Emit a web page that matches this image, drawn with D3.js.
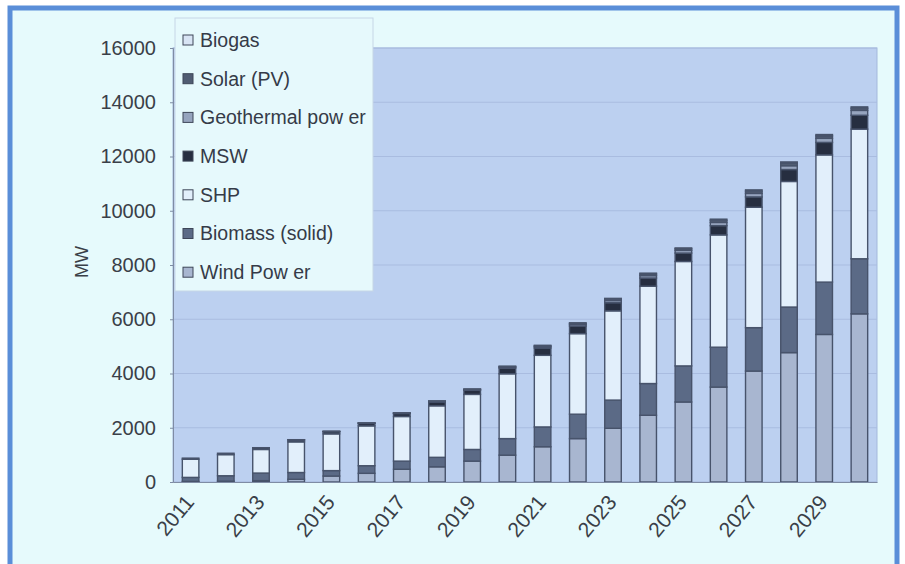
<!DOCTYPE html>
<html>
<head>
<meta charset="utf-8">
<script src="https://cdn.jsdelivr.net/npm/d3@7"></script>
<style>
  html, body { margin: 0; padding: 0; background: #ffffff; }
  svg { display: block; font-family: "Liberation Sans", Arial, sans-serif; }
</style>
</head>
<body>
<svg id="chart" width="905" height="564"></svg>
<script>
// ---- data (MW) ----
const years = ["2011","2012","2013","2014","2015","2016","2017","2018","2019","2020",
               "2021","2022","2023","2024","2025","2026","2027","2028","2029","2030"];
const windPower   = [20, 30, 50, 100, 220, 320, 470, 560, 770, 990, 1300, 1600, 1980, 2460, 2950, 3500, 4090, 4770, 5440, 6200];
const biomass     = [150, 200, 280, 250, 200, 280, 300, 350, 430, 610, 730, 900, 1040, 1170, 1330, 1470, 1600, 1680, 1930, 2030];
const shp         = [670, 780, 870, 1130, 1355, 1470, 1645, 1900, 2030, 2390, 2640, 2970, 3290, 3590, 3850, 4140, 4440, 4630, 4690, 4780];
const msw         = [40, 50, 60, 70, 80, 90, 110, 140, 150, 210, 270, 280, 300, 300, 310, 340, 380, 440, 460, 510];
const geothermal  = [0, 0, 0, 5, 5, 10, 15, 20, 25, 35, 50, 60, 80, 90, 100, 120, 130, 140, 150, 180];
const solar       = [0, 0, 0, 0, 5, 5, 5, 10, 15, 20, 30, 35, 50, 60, 60, 80, 85, 90, 90, 80];
const biogas      = [0, 0, 5, 5, 5, 5, 5, 10, 10, 15, 20, 25, 30, 30, 30, 40, 45, 50, 50, 50];

const seriesNames = ["Wind Pow er", "Biomass (solid)", "SHP", "MSW", "Geothermal pow er", "Solar (PV)", "Biogas"];
const seriesValues = [windPower, biomass, shp, msw, geothermal, solar, biogas];
const seriesColors = ["#a8b6d0", "#5b6a86", "#e2effb", "#262e40", "#96a4be", "#505c72", "#d8e4f4"];
const yTicks = [0, 2000, 4000, 6000, 8000, 10000, 12000, 14000, 16000];
const xTickLabels = ["2011","2013","2015","2017","2019","2021","2023","2025","2027","2029"];
const yLabel = "MW";

// ---- build table ----
const keys = seriesNames;
const table = years.map((yr, i) => {
  const row = { year: yr };
  keys.forEach((k, j) => row[k] = seriesValues[j][i]);
  return row;
});

const svg = d3.select("#chart");

// frame
svg.append("rect").attr("x", 0).attr("y", 0).attr("width", 905).attr("height", 564).attr("fill", "#ffffff");
svg.append("rect").attr("x", 10).attr("y", 8).attr("width", 887).attr("height", 600)
  .attr("fill", "#e6fafc").attr("stroke", "#5a8ed8").attr("stroke-width", 5);

const plot = { left: 173, right: 877, top: 48, bottom: 482 };

const x = d3.scaleBand().domain(years).range([plot.left, plot.right])
  .paddingInner(0.53).paddingOuter(0.265);
const y = d3.scaleLinear().domain([0, 16000]).range([plot.bottom, plot.top]);

// plot background
svg.append("rect").attr("x", plot.left).attr("y", plot.top)
  .attr("width", plot.right - plot.left).attr("height", plot.bottom - plot.top)
  .attr("fill", "#bcd0f0").attr("stroke", "#a4b8dc").attr("stroke-width", 1);

// gridlines
svg.append("g").selectAll("line").data(yTicks.slice(1)).join("line")
  .attr("x1", plot.left).attr("x2", plot.right)
  .attr("y1", d => y(d)).attr("y2", d => y(d))
  .attr("stroke", "#a9bce0").attr("stroke-width", 1);

// stacked bars
const stack = d3.stack().keys(keys)(table);
const layers = svg.append("g").selectAll("g").data(stack).join("g")
  .attr("fill", (d, i) => seriesColors[i]);
layers.selectAll("rect").data(d => d.filter(p => p[1] - p[0] > 0)).join("rect")
  .attr("x", d => x(d.data.year))
  .attr("width", x.bandwidth())
  .attr("y", d => y(d[1]))
  .attr("height", d => y(d[0]) - y(d[1]))
  .attr("stroke", "#47536b").attr("stroke-width", 1.4);

// y axis
const yAxis = d3.axisLeft(y).tickValues(yTicks).tickSize(3).tickPadding(14).tickFormat(d3.format("d"));
const yg = svg.append("g").attr("transform", `translate(${plot.left},0)`).call(yAxis);
yg.select(".domain").attr("stroke", "#7f8ca4");
yg.selectAll(".tick line").attr("stroke", "#7f8ca4");
yg.selectAll(".tick text").attr("fill", "#3a3f48").attr("font-size", 20)
  .attr("font-family", "'Liberation Sans', Arial, sans-serif");

// x axis
const xAxis = d3.axisBottom(x).tickValues(xTickLabels).tickSize(0).tickPadding(0);
const xg = svg.append("g").attr("transform", `translate(0,${plot.bottom})`).call(xAxis);
xg.select(".domain").attr("stroke", "#7f8ca4");
xg.selectAll(".tick text")
  .attr("fill", "#3a3f48").attr("font-size", 21)
  .attr("font-family", "'Liberation Sans', Arial, sans-serif")
  .attr("text-anchor", "end")
  .attr("y", 0)
  .attr("dy", "0.35em")
  .attr("transform", "translate(-1,16) rotate(-50)");

// y label
svg.append("text").attr("transform", "translate(88,262) rotate(-90)")
  .attr("text-anchor", "middle").attr("font-size", 18).attr("fill", "#3a3f48")
  .text(yLabel);

// legend
const legendOrder = [6, 5, 4, 3, 2, 1, 0];
const lg = svg.append("g");
lg.append("rect").attr("x", 175).attr("y", 18).attr("width", 198).attr("height", 273)
  .attr("fill", "#e6f9fc").attr("stroke", "#c6d6e6").attr("stroke-width", 1);
const items = lg.selectAll("g.item").data(legendOrder).join("g")
  .attr("class", "item")
  .attr("transform", (d, i) => `translate(183,${40 + i * 38.7})`);
items.append("rect").attr("x", 0).attr("y", -5).attr("width", 10).attr("height", 10)
  .attr("fill", d => seriesColors[d]).attr("stroke", "#3e4658").attr("stroke-width", 1);
items.append("text").attr("x", 17).attr("y", 0).attr("dy", "0.35em")
  .attr("font-size", 19.5).attr("fill", "#353b48")
  .text(d => seriesNames[d]);
</script>
</body>
</html>
